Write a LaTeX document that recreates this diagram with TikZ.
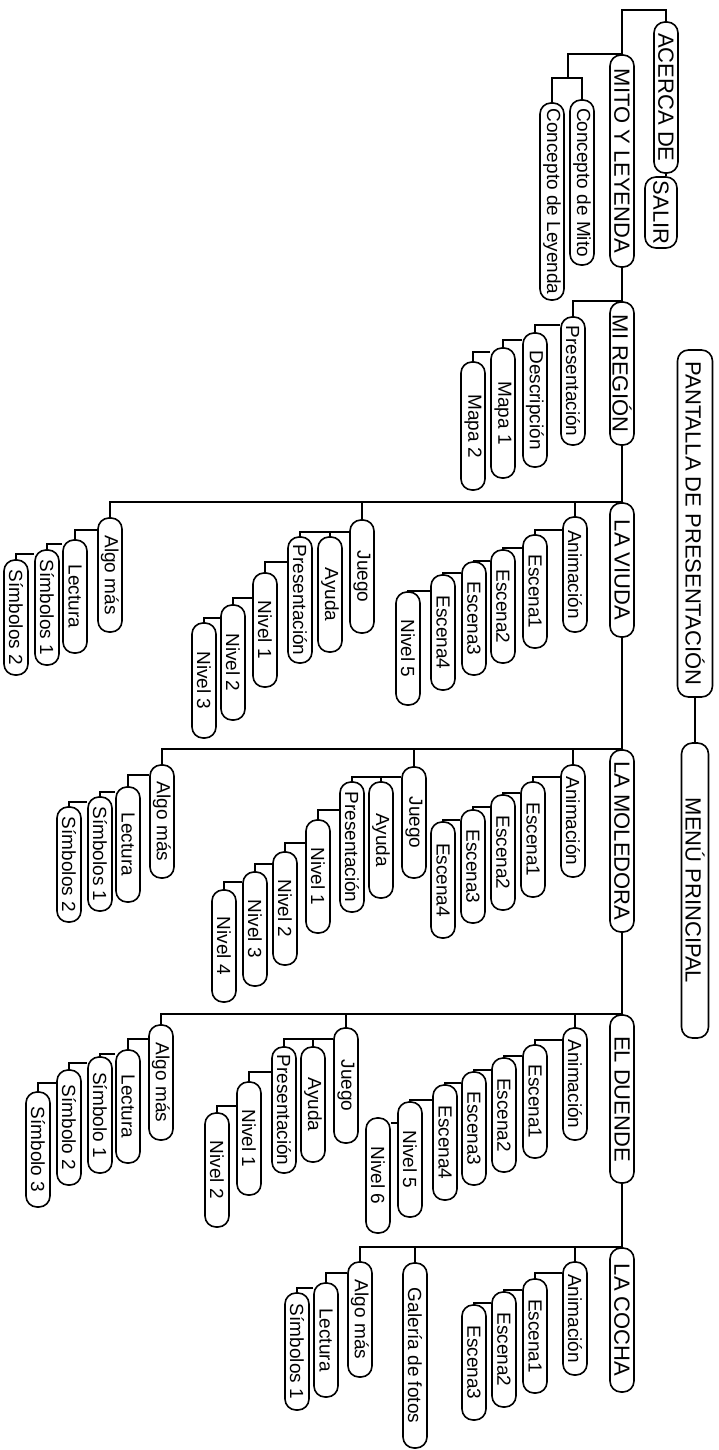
\documentclass[tikz,border=0pt]{standalone}
\usepackage{graphicx}
\usepackage{fontspec}
\setmainfont{Liberation Sans}
\begin{document}
\begin{tikzpicture}[x=1pt,y=-1pt,
  cb/.style={draw, line width=1.6pt, rounded corners=11pt, minimum width=24pt, inner sep=0pt, font=\fontsize{19}{20}\selectfont},
  lv/.style={cb, font=\fontsize{22}{24}\selectfont},
  ln/.style={line width=1.6pt}]
\useasboundingbox (0,0) rectangle (718,1450);
% top group
\node[lv, minimum height=151] (acerca) at (666,97.5) {\rotatebox{-90}{ACERCA DE}};
\node[lv, minimum width=32pt, minimum height=71] (salir) at (661,212.5) {\rotatebox{-90}{SALIR}};
\node[lv, minimum height=212] (mito) at (622,161) {\rotatebox{-90}{MITO Y LEYENDA}};
\node[cb, minimum height=165] (cmito) at (582,182.5) {\rotatebox{-90}{Concepto de Mito}};
\node[cb, minimum height=197] (cley) at (552,201.5) {\rotatebox{-90}{Concepto de Leyenda}};
\node[lv, minimum height=143] (region) at (622,373.5) {\rotatebox{-90}{MI REGIÓN}};
\node[cb, minimum height=128] (rpres) at (573,381) {\rotatebox{-90}{Presentación}};
\node[cb, minimum height=134] (desc) at (535,400) {\rotatebox{-90}{Descripción}};
\node[cb, minimum height=130] (mapa1) at (503,413) {\rotatebox{-90}{Mapa 1}};
\node[cb, minimum height=128] (mapa2) at (473,426) {\rotatebox{-90}{Mapa 2}};
\node[lv, minimum width=35pt, minimum height=347] (pantalla) at (695,523.5) {\rotatebox{-90}{PANTALLA DE PRESENTACIÓN}};
\node[lv, minimum width=27pt, minimum height=295] (menu) at (695,890.5) {\rotatebox{-90}{MENÚ PRINCIPAL}};
% LA VIUDA
\node[lv, minimum height=134] (viuda) at (622,570) {\rotatebox{-90}{LA VIUDA}};
\node[cb, minimum height=115] (vanim) at (575,574.5) {\rotatebox{-90}{Animación}};
\node[cb, minimum height=113] (ve1) at (535,591.5) {\rotatebox{-90}{Escena1}};
\node[cb, minimum height=113] (ve2) at (503,606.5) {\rotatebox{-90}{Escena2}};
\node[cb, minimum height=113] (ve3) at (474,618.5) {\rotatebox{-90}{Escena3}};
\node[cb, minimum height=115] (ve4) at (443,632.5) {\rotatebox{-90}{Escena4}};
\node[cb, minimum height=113] (vn5) at (408,648.5) {\rotatebox{-90}{Nivel 5}};
\node[cb, minimum height=113] (vjuego) at (362,576.5) {\rotatebox{-90}{Juego}};
\node[cb, minimum height=115] (vayuda) at (330,594.5) {\rotatebox{-90}{Ayuda}};
\node[cb, minimum height=126] (vpres) at (300,600) {\rotatebox{-90}{Presentación}};
\node[cb, minimum height=114] (vn1) at (265,630) {\rotatebox{-90}{Nivel 1}};
\node[cb, minimum height=115] (vn2) at (233,662.5) {\rotatebox{-90}{Nivel 2}};
\node[cb, minimum height=115] (vn3) at (204,680.5) {\rotatebox{-90}{Nivel 3}};
\node[cb, minimum height=114] (valgo) at (110,575) {\rotatebox{-90}{Algo más}};
\node[cb, minimum height=113] (vlect) at (75,596.5) {\rotatebox{-90}{Lectura}};
\node[cb, minimum height=115] (vs1) at (47,607.5) {\rotatebox{-90}{Símbolos 1}};
\node[cb, minimum height=115] (vs2) at (16,617.5) {\rotatebox{-90}{Símbolos 2}};
% LA MOLEDORA
\node[lv, minimum height=182] (mole) at (622,841) {\rotatebox{-90}{LA MOLEDORA}};
\node[cb, minimum height=112] (manim) at (573,821) {\rotatebox{-90}{Animación}};
\node[cb, minimum height=115] (me1) at (533,839.5) {\rotatebox{-90}{Escena1}};
\node[cb, minimum height=115] (me2) at (503,852.5) {\rotatebox{-90}{Escena2}};
\node[cb, minimum height=113] (me3) at (473,866.5) {\rotatebox{-90}{Escena3}};
\node[cb, minimum height=116] (me4) at (443,880) {\rotatebox{-90}{Escena4}};
\node[cb, minimum height=111] (mjuego) at (414,822.5) {\rotatebox{-90}{Juego}};
\node[cb, minimum height=116] (mayuda) at (381,840) {\rotatebox{-90}{Ayuda}};
\node[cb, minimum height=130] (mpres) at (352,847) {\rotatebox{-90}{Presentación}};
\node[cb, minimum height=113] (mn1) at (318,876.5) {\rotatebox{-90}{Nivel 1}};
\node[cb, minimum height=113] (mn2) at (285,908.5) {\rotatebox{-90}{Nivel 2}};
\node[cb, minimum height=114] (mn3) at (255,929) {\rotatebox{-90}{Nivel 3}};
\node[cb, minimum height=112] (mn4) at (224,946) {\rotatebox{-90}{Nivel 4}};
\node[cb, minimum height=113] (malgo) at (162,821.5) {\rotatebox{-90}{Algo más}};
\node[cb, minimum height=115] (mlect) at (128,844.5) {\rotatebox{-90}{Lectura}};
\node[cb, minimum height=114] (ms1) at (100,854) {\rotatebox{-90}{Símbolos 1}};
\node[cb, minimum height=115] (ms2) at (69,864.5) {\rotatebox{-90}{Símbolos 2}};
% EL DUENDE
\node[lv, minimum height=168] (duende) at (622,1099) {\rotatebox{-90}{EL DUENDE}};
\node[cb, minimum height=112] (danim) at (575,1084) {\rotatebox{-90}{Animación}};
\node[cb, minimum height=113] (de1) at (535,1101.5) {\rotatebox{-90}{Escena1}};
\node[cb, minimum height=114] (de2) at (504,1115) {\rotatebox{-90}{Escena2}};
\node[cb, minimum height=113] (de3) at (474,1128.5) {\rotatebox{-90}{Escena3}};
\node[cb, minimum height=115] (de4) at (445,1142.5) {\rotatebox{-90}{Escena4}};
\node[cb, minimum height=115] (dn5) at (410,1159.5) {\rotatebox{-90}{Nivel 5}};
\node[cb, minimum height=115] (dn6) at (378,1175.5) {\rotatebox{-90}{Nivel 6}};
\node[cb, minimum height=115] (djuego) at (346,1085.5) {\rotatebox{-90}{Juego}};
\node[cb, minimum height=115] (dayuda) at (313,1104.5) {\rotatebox{-90}{Ayuda}};
\node[cb, minimum height=126] (dpres) at (284,1110) {\rotatebox{-90}{Presentación}};
\node[cb, minimum height=113] (dn1) at (249,1138.5) {\rotatebox{-90}{Nivel 1}};
\node[cb, minimum height=114] (dn2) at (217,1170) {\rotatebox{-90}{Nivel 2}};
\node[cb, minimum height=115] (dalgo) at (161,1082.5) {\rotatebox{-90}{Algo más}};
\node[cb, minimum height=113] (dlect) at (128,1106.5) {\rotatebox{-90}{Lectura}};
\node[cb, minimum height=116] (ds1) at (100,1115) {\rotatebox{-90}{Símbolo 1}};
\node[cb, minimum height=115] (ds2) at (69,1127.5) {\rotatebox{-90}{Símbolo 2}};
\node[cb, minimum height=115] (ds3) at (38,1149.5) {\rotatebox{-90}{Símbolo 3}};
% LA COCHA
\node[lv, minimum height=144] (cocha) at (622,1320) {\rotatebox{-90}{LA COCHA}};
\node[cb, minimum height=113] (canim) at (575,1318.5) {\rotatebox{-90}{Animación}};
\node[cb, minimum height=114] (ce1) at (535,1336) {\rotatebox{-90}{Escena1}};
\node[cb, minimum height=115] (ce2) at (504,1349.5) {\rotatebox{-90}{Escena2}};
\node[cb, minimum height=115] (ce3) at (474,1362.5) {\rotatebox{-90}{Escena3}};
\node[cb, minimum height=185] (cgal) at (415,1355.5) {\rotatebox{-90}{Galería de fotos}};
\node[cb, minimum height=115] (calgo) at (360,1319.5) {\rotatebox{-90}{Algo más}};
\node[cb, minimum height=114] (clect) at (326,1340) {\rotatebox{-90}{Lectura}};
\node[cb, minimum height=117] (cs1) at (297,1351.5) {\rotatebox{-90}{Símbolos 1}};
% connectors
\coordinate (mj) at (568,78);
\begin{scope}[ln]
\draw (acerca.north) -- (acerca.north |- 0,10) -| (mito.north);
\draw (acerca.south) -- (acerca.south |- salir.north);
\draw (mito.north) -| (mj);
\draw (mj) -| (cmito.north);
\draw (mj) -| (cley.north);
\draw (mito.south) -- (region.north);
\draw (region.north) -| (rpres.north);
\draw (rpres.west |- 0,325) -| (desc.north);
\draw (desc.west |- 0,340) -| (mapa1.north);
\draw (mapa1.west |- 0,352) -| (mapa2.north);
\draw (pantalla.south) -- (menu.north);
% viuda
\draw (region.south) -- (viuda.north);
\draw (viuda.north) -| (vanim.north);
\draw (viuda.north) -| (vjuego.north);
\draw (viuda.north) -| (valgo.north);
\draw (vanim.west |- 0,530) -| (ve1.north);
\draw (ve1.west |- 0,548) -| (ve2.north);
\draw (ve2.west |- 0,561) -| (ve3.north);
\draw (ve3.west |- 0,573) -| (ve4.north);
\draw (ve4.west |- 0,591) -| (vn5.north);
\draw (vjuego.west |- 0,532) -| (vayuda.north);
\draw (vjuego.west |- 0,532) -| (vpres.north);
\draw (vpres.west |- 0,562) -| (vn1.north);
\draw (vn1.west |- 0,598) -| (vn2.north);
\draw (vn2.west |- 0,618) -| (vn3.north);
\draw (valgo.west |- 0,530) -| (vlect.north);
\draw (vlect.west |- 0,544) -| (vs1.north);
\draw (vs1.west |- 0,554) -| (vs2.north);
% moledora
\draw (viuda.south) -- (mole.north);
\draw (mole.north) -| (manim.north);
\draw (mole.north) -| (mjuego.north);
\draw (mole.north) -| (malgo.north);
\draw (manim.west |- 0,777) -| (me1.north);
\draw (me1.west |- 0,793) -| (me2.north);
\draw (me2.west |- 0,807) -| (me3.north);
\draw (me3.west |- 0,820) -| (me4.north);
\draw (mjuego.west |- 0,777) -| (mayuda.north);
\draw (mjuego.west |- 0,777) -| (mpres.north);
\draw (mpres.west |- 0,810) -| (mn1.north);
\draw (mn1.west |- 0,843) -| (mn2.north);
\draw (mn2.west |- 0,864) -| (mn3.north);
\draw (mn3.west |- 0,882) -| (mn4.north);
\draw (malgo.west |- 0,775) -| (mlect.north);
\draw (mlect.west |- 0,792) -| (ms1.north);
\draw (ms1.west |- 0,802) -| (ms2.north);
% duende
\draw (mole.south) -- (duende.north);
\draw (duende.north) -| (danim.north);
\draw (duende.north) -| (djuego.north);
\draw (duende.north) -| (dalgo.north);
\draw (danim.west |- 0,1040) -| (de1.north);
\draw (de1.west |- 0,1056) -| (de2.north);
\draw (de2.west |- 0,1070) -| (de3.north);
\draw (de3.west |- 0,1083) -| (de4.north);
\draw (de4.west |- 0,1100) -| (dn5.north);
\draw (dn5.west |- 0,1123) -- (dn6.east |- 0,1123);
\draw (djuego.west |- 0,1039) -| (dayuda.north);
\draw (djuego.west |- 0,1039) -| (dpres.north);
\draw (dpres.west |- 0,1072) -| (dn1.north);
\draw (dn1.west |- 0,1106) -| (dn2.north);
\draw (dalgo.west |- 0,1039) -| (dlect.north);
\draw (dlect.west |- 0,1054) -| (ds1.north);
\draw (ds1.west |- 0,1063) -| (ds2.north);
\draw (ds2.west |- 0,1083) -| (ds3.north);
% cocha
\draw (duende.south) -- (cocha.north);
\draw (cocha.north) -| (canim.north);
\draw (cocha.north) -| (cgal.north);
\draw (cocha.north) -| (calgo.north);
\draw (canim.west |- 0,1273) -| (ce1.north);
\draw (ce1.west |- 0,1290) -| (ce2.north);
\draw (ce2.west |- 0,1303) -| (ce3.north);
\draw (calgo.west |- 0,1273) -| (clect.north);
\draw (clect.west |- 0,1288) -| (cs1.north);
\end{scope}
\end{tikzpicture}
\end{document}
